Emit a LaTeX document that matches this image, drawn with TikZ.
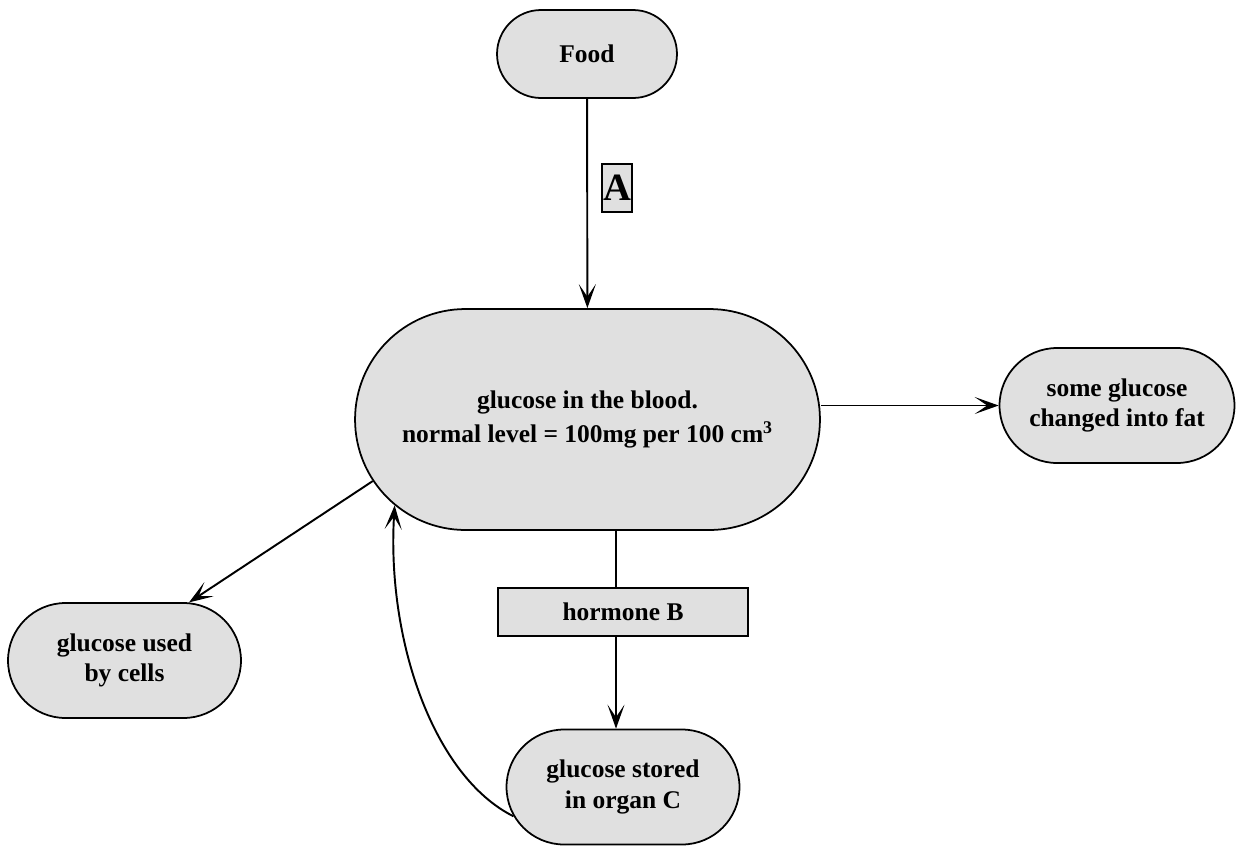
\documentclass[tikz,border=0pt]{standalone}
\usepackage{fontspec}
\setmainfont{Liberation Serif}
\usetikzlibrary{shapes.misc,arrows.meta}
\definecolor{boxfill}{RGB}{224,224,224}
\begin{document}
\begin{tikzpicture}[x=0.02cm,y=-0.02cm,
  pill/.style={rounded rectangle, draw, line width=1pt, fill=boxfill,
    align=center, inner sep=0pt, font=\fontsize{14.5}{17.5}\selectfont\bfseries},
  labelbox/.style={rectangle, draw, line width=0.9pt, fill=boxfill,
    inner sep=0pt, font=\fontsize{14.5}{17.5}\selectfont\bfseries},
  link/.style={line width=1.1pt},
  flow/.style={line width=1.1pt, -{Stealth[length=4.8mm,width=3.4mm,inset=2.5mm]}}]
\useasboundingbox (0,0) rectangle (1237,846);

% boxes
\node[pill, minimum width=3.6cm, minimum height=1.76cm] (food) at (587,54) {Food};
\node[pill, minimum width=9.3cm, minimum height=4.42cm,
  font=\fontsize{14.5}{19}\selectfont\bfseries] (blood) at (587.5,419.5)
  {glucose in the blood.\\normal level = 100mg per 100 cm\textsuperscript{3}};
\node[pill, minimum width=4.7cm, minimum height=2.3cm] (fat) at (1117,405.5)
  {some glucose\\changed into fat};
\node[pill, minimum width=4.66cm, minimum height=2.3cm] (cells) at (124.5,660.5)
  {glucose used\\by cells};
\node[pill, minimum width=4.66cm, minimum height=2.3cm] (stored) at (623,787)
  {glucose stored\\in organ C};
\node[labelbox, minimum width=5cm, minimum height=0.96cm] (hormone) at (623,612) {hormone B};
\node[labelbox, minimum width=0.6cm, minimum height=0.96cm,
  font=\fontsize{22}{24}\selectfont\bfseries] (A) at (617,188) {A};

% connectors
\coordinate (bx) at (616,0);
\draw[flow] (food) -- (blood);
\draw[flow] (blood.east |- fat) -- (fat.west);
\draw[flow] (blood.196) -- (cells.42);
\draw[link] (blood.south -| bx) -- (hormone.north -| bx);
\draw[flow] (hormone.south -| bx) -- (stored.north -| bx);
\draw[flow] (stored.195) .. controls +(-80,-40) and +(-8,135) .. (blood.204);
\end{tikzpicture}
\end{document}
